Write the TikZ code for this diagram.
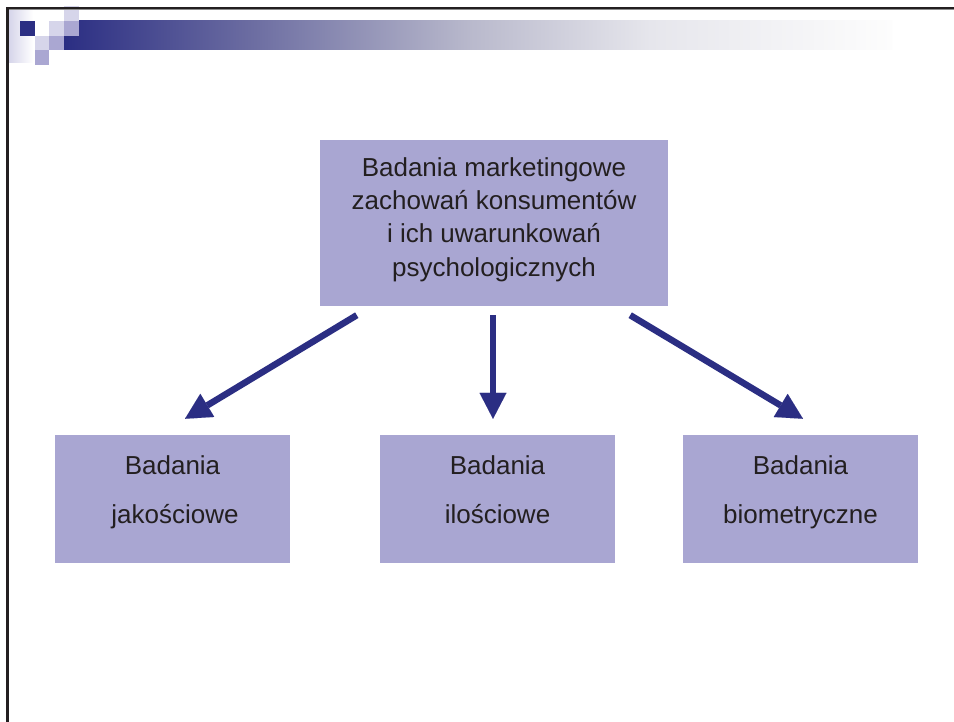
\documentclass[tikz,border=0pt]{standalone}
\usepackage{fontspec}
\setmainfont{Liberation Sans}
\usetikzlibrary{arrows.meta}
\definecolor{navy}{HTML}{2B2E83}
\definecolor{boxc}{HTML}{A9A6D2}
\definecolor{lightsq}{HTML}{D6D5EA}
\definecolor{medsq}{HTML}{AAA7D2}
\definecolor{txt}{HTML}{231F20}
\definecolor{g1}{HTML}{6F70A3}
\definecolor{g2}{HTML}{B9B9CC}
\definecolor{g3}{HTML}{E6E6EC}
\definecolor{g4}{HTML}{FDFDFD}
\tikzset{
  box/.style={fill=boxc, draw=none, inner sep=0pt},
  boxtext/.style={text=txt, align=center, inner sep=0pt, font=\fontsize{26pt}{33.3pt}\selectfont},
  subtext/.style={text=txt, anchor=base, inner sep=0pt, font=\fontsize{26pt}{32pt}\selectfont},
  conn/.style={draw=navy, line width=6.5pt, -{Triangle[length=26pt,width=27pt,line width=0.01pt]}},
}
\begin{document}
\begin{tikzpicture}[x=1pt,y=-1pt]
\useasboundingbox[fill=white] (0,0) rectangle (954,722);
% header decoration
\shade[left color=lightsq, right color=white] (9,10) rectangle (33,63);
\shade[left color=navy, right color=g1] (64,21) rectangle (260.5,50);
\shade[left color=g1, right color=g2] (260,21) rectangle (470.5,50);
\shade[left color=g2, right color=g3] (470,21) rectangle (650.5,50);
\shade[left color=g3, right color=g4] (650,21) rectangle (892,50);
\fill[navy] (20,21) rectangle (35,36);
\fill[lightsq] (64,6) rectangle (79,21);
\fill[lightsq] (49,21) rectangle (64,36);
\fill[medsq] (64,21) rectangle (79,36);
\fill[lightsq] (35,36) rectangle (49,50);
\fill[medsq] (49,36) rectangle (64,50);
\fill[medsq] (35,50) rectangle (49,65);
% frame
\fill[black!45] (6,8.7) rectangle (954,9.8);
\fill[txt] (6,6.7) rectangle (954,8.8);
\fill[txt] (6,6.7) rectangle (9,722);
% boxes
\node[box, minimum width=348pt, minimum height=166pt] (top) at (494,223) {};
\node[boxtext] (toptext) at (494,219.5) {Badania marketingowe\\zachowań konsumentów\\i ich uwarunkowań\\psychologicznych};
\node[box, minimum width=235pt, minimum height=128pt] (b1) at (172.5,499) {};
\node[box, minimum width=235pt, minimum height=128pt] (b2) at (497.5,499) {};
\node[box, minimum width=235pt, minimum height=128pt] (b3) at (800.5,499) {};
\node[subtext] (t1a) at (172.5,474) {Badania};
\node[subtext] (t1b) at (175,523) {jakościowe};
\node[subtext] (t2a) at (497.5,474) {Badania};
\node[subtext] (t2b) at (497.5,523) {ilościowe};
\node[subtext] (t3a) at (800.5,474) {Badania};
\node[subtext] (t3b) at (800.5,523) {biometryczne};
% connectors
\coordinate (s1) at ([xshift=37pt,yshift=-9pt]top.south west);
\coordinate (s2) at ([xshift=-1pt,yshift=-9pt]top.south);
\coordinate (s3) at ([xshift=-38pt,yshift=-9pt]top.south east);
\coordinate (e1) at ([xshift=12.5pt,yshift=16pt]b1.north);
\coordinate (e2) at ([xshift=-4.5pt,yshift=16pt]b2.north);
\coordinate (e3) at ([xshift=2.5pt,yshift=16pt]b3.north);
\draw[conn] (s1) -- (e1);
\draw[conn] (s2) -- (e2);
\draw[conn] (s3) -- (e3);
\end{tikzpicture}
\end{document}
